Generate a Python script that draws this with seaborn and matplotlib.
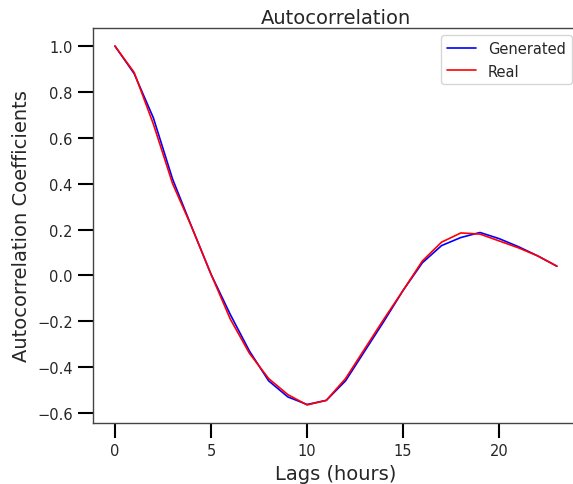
import numpy as np
import pandas as pd
import matplotlib
matplotlib.use("Agg")
import matplotlib.pyplot as plt
import seaborn as sns

lags = list(range(24))
generated = [1.0, 0.88, 0.687, 0.42, 0.21, 0.005, -0.17, -0.33, -0.46, -0.53, -0.563, -0.545,
             -0.46, -0.33, -0.2, -0.065, 0.055, 0.13, 0.165, 0.187, 0.16, 0.125, 0.085, 0.04]
real = [1.0, 0.885, 0.66, 0.40, 0.21, 0.005, -0.19, -0.34, -0.45, -0.52, -0.565, -0.545,
        -0.45, -0.32, -0.19, -0.065, 0.063, 0.145, 0.185, 0.18, 0.15, 0.12, 0.085, 0.04]

sns.set_theme(style="ticks")
plt.rcParams['font.family'] = ['DejaVu Sans']

df = pd.DataFrame({
    "Lag": lags * 2,
    "ACF": generated + real,
    "Series": ["Generated"] * len(lags) + ["Real"] * len(lags),
})

fig, ax = plt.subplots(figsize=(5.73, 4.85), dpi=100)
fig.subplots_adjust(left=0.162, right=579 / 573, top=0.940, bottom=0.126)

sns.lineplot(data=df, x="Lag", y="ACF", hue="Series",
             palette={"Generated": "blue", "Real": "red"}, linewidth=1.2, ax=ax)

ax.set_title("Autocorrelation", fontsize=14, pad=4)
ax.set_xlabel("Lags (hours)", fontsize=14)
ax.set_ylabel("Autocorrelation Coefficients", fontsize=14)
ax.tick_params(axis="both", labelsize=10.5, length=11, width=1.5, color="black")
ax.set_xticks([0, 5, 10, 15, 20])
ax.set_yticks([-0.6, -0.4, -0.2, 0.0, 0.2, 0.4, 0.6, 0.8, 1.0])
for s in ax.spines.values():
    s.set_visible(True)
    s.set_color("#444444")
    s.set_linewidth(1.0)

leg = ax.legend(loc="upper right", fontsize=10.5, frameon=True)
leg.get_frame().set_edgecolor("#cccccc")

fig.savefig("out.png", dpi=100)
